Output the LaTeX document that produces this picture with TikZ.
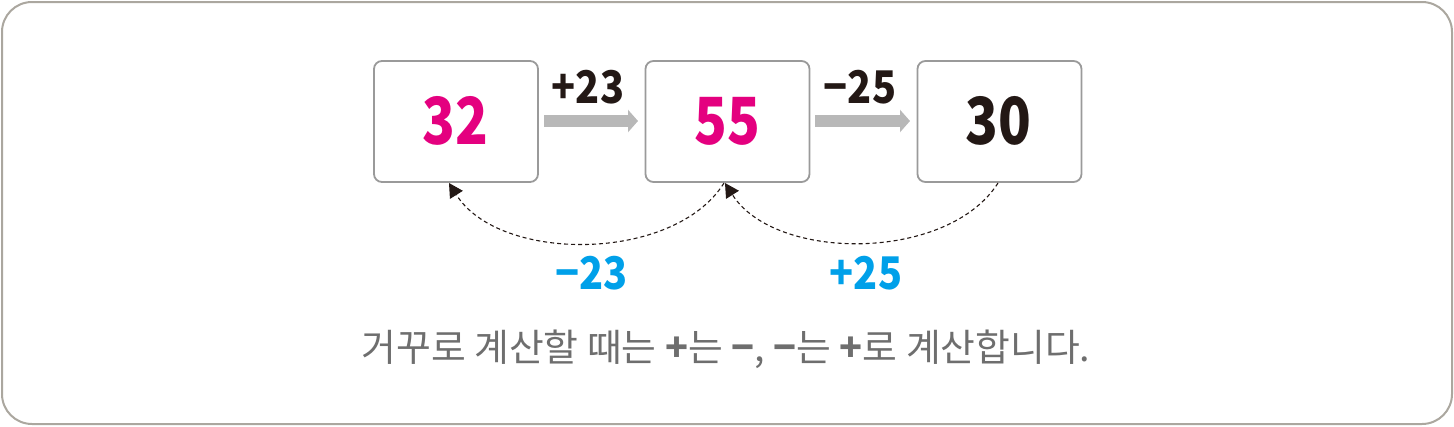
\documentclass[tikz,border=0pt]{standalone}
\usepackage{fontspec}
\setmainfont{Noto Sans CJK KR}
\usetikzlibrary{arrows.meta}
\definecolor{mag}{HTML}{E4007F}
\definecolor{cy}{HTML}{00A0E9}
\definecolor{ink}{HTML}{231815}
\definecolor{frame}{HTML}{ABA79F}
\definecolor{boxln}{HTML}{9A9A9A}
\definecolor{arr}{HTML}{B8B8B8}
\definecolor{txt}{HTML}{6E6E6E}
\tikzset{
  numbox/.style={draw=boxln, line width=1.8pt, rounded corners=8pt, minimum width=164pt, minimum height=121pt, inner sep=0pt},
  bignum/.style={font=\fontsize{65}{65}\selectfont\bfseries},
  oplabel/.style={font=\fontsize{45}{45}\selectfont\bfseries, inner sep=0pt},
  grayarrow/.style={draw=arr, line width=12pt, -{Triangle[length=10pt,width=22pt]}},
  backarrow/.style={draw=ink, line width=1.1pt, dash pattern=on 4pt off 3pt, -{Triangle[length=14pt,width=15pt]}},
}
\newcommand{\cnd}[1]{\scalebox{0.83}[1]{#1}}
\newcommand{\cnl}[1]{\scalebox{0.88}[1]{#1}}
\begin{document}
\begin{tikzpicture}[x=1pt,y=-1pt]
\useasboundingbox (0,0) rectangle (1454,426);
\draw[frame, line width=2pt, rounded corners=30pt] (2,2) rectangle (1452,424);
\node[numbox] (b1) at (456,121.5) {};
\node[numbox] (b2) at (727.5,121.5) {};
\node[numbox] (b3) at (999.5,121.5) {};
\node[bignum, text=mag] (n1) at (455,121) {\cnd{32}};
\node[bignum, text=mag] (n2) at (727,121) {\cnd{55}};
\node[bignum, text=ink] (n3) at (998,121) {\cnd{30}};
\coordinate (a1s) at (544,121);
\coordinate (a1e) at (638,121);
\coordinate (a2s) at (815,121);
\coordinate (a2e) at (910,121);
\draw[grayarrow] (a1s) -- (a1e);
\draw[grayarrow] (a2s) -- (a2e);
\node[oplabel, text=ink] (l1) at (588,87) {\cnl{+23}};
\node[oplabel, text=ink] (l2) at (860,87) {\cnl{−25}};
\coordinate (c1s) at (724,183);
\coordinate (c1e) at (449,183);
\coordinate (c2s) at (998,183);
\coordinate (c2e) at (725,183);
\draw[backarrow] (c1s) .. controls (674,263) and (499,263) .. (c1e);
\draw[backarrow] (c2s) .. controls (948,262) and (775,262) .. (c2e);
\node[oplabel, text=cy] (l3) at (591.5,273) {\cnl{−23}};
\node[oplabel, text=cy] (l4) at (866,273) {\cnl{+25}};
\node[text=txt, font=\fontsize{37.8}{38}\selectfont, inner sep=0pt] (cap) at (726,349) {거꾸로 계산할 때는 \textbf{+}는 \textbf{−}, \textbf{−}는 \textbf{+}로 계산합니다.};
\end{tikzpicture}
\end{document}
